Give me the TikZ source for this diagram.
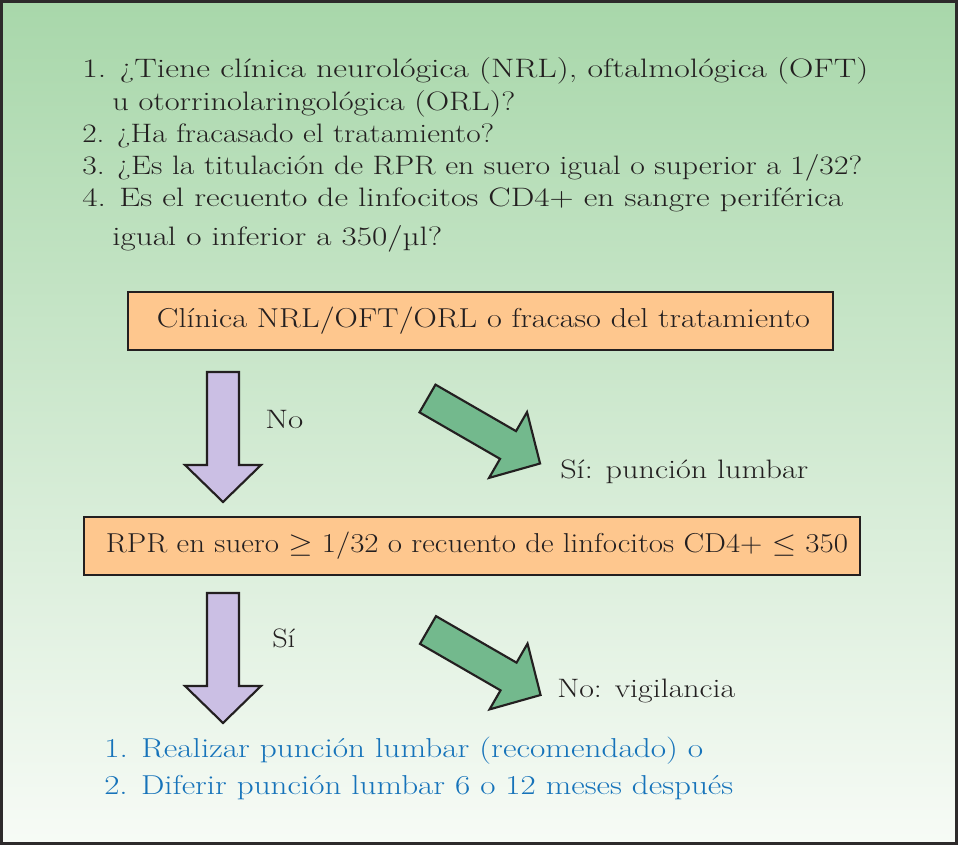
\documentclass[tikz,border=0pt]{standalone}
\usepackage{fontspec}
\usetikzlibrary{calc}
\definecolor{bgtop}{RGB}{168,215,170}
\definecolor{bgbot}{RGB}{247,251,246}
\definecolor{boxfill}{RGB}{254,199,142}
\definecolor{purp}{RGB}{203,191,228}
\definecolor{greenarr}{RGB}{115,185,141}
\definecolor{bluetxt}{RGB}{22,115,186}
\definecolor{ink}{RGB}{35,31,32}
\definecolor{frame}{RGB}{45,42,43}
\newlength\pxu \setlength\pxu{0.75pt}
\newcommand\fitw[2]{\resizebox{#1\pxu}{\height}{#2}}
\tikzset{
  blockarrow/.pic={\draw[pic actions] (0,-16) -- (93,-16) -- (93,-38) -- (130,0) -- (93,38) -- (93,16) -- (0,16) -- cycle;},
  purpleA/.style={fill=purp,draw=ink,line width=1.6pt,line join=miter},
  greenA/.style={fill=greenarr,draw=ink,line width=1.6pt,line join=miter},
  txt/.style={inner sep=0pt,anchor=base west,text=ink,font=\fontsize{20}{24}\selectfont},
  bluet/.style={txt,text=bluetxt,font=\fontsize{20.5}{24}\selectfont},
  orbox/.style={fill=boxfill,draw=ink,line width=1.5pt,inner sep=0pt},
  boxtxt/.style={inner sep=0pt,text=ink,font=\fontsize{20.5}{24}\selectfont}
}
\begin{document}
\begin{tikzpicture}[x=0.75pt,y=-0.75pt]
\useasboundingbox (0,0) rectangle (958,845);
\shade[top color=bgtop,bottom color=bgbot] (0,0) rectangle (958,845);
\draw[frame,line width=2.4pt] (1.6,1.6) rectangle (956.4,843.4);
% question list
\node[txt] (q1a) at (82,78) {\fitw{786}{1. ¿Tiene clínica neurológica (NRL), oftalmológica (OFT)}};
\node[txt] (q1b) at (112,111) {\fitw{403}{u otorrinolaringológica (ORL)?}};
\node[txt] (q2) at (82,143) {\fitw{412}{2. ¿Ha fracasado el tratamiento?}};
\node[txt] (q3) at (82,175) {\fitw{780}{3. ¿Es la titulación de RPR en suero igual o superior a 1/32?}};
\node[txt] (q4a) at (82,207) {\fitw{761}{4. Es el recuento de linfocitos CD4+ en sangre periférica}};
\node[txt] (q4b) at (112,246) {\fitw{330}{igual o inferior a 350/µl?}};
% box 1
\path[orbox] (128,292) rectangle (833,350);
\node[boxtxt] (b1) at (483.5,321) {\fitw{653}{Clínica NRL/OFT/ORL o fracaso del tratamiento}};
% arrows 1
\pic[purpleA,rotate=-90] at (223,372) {blockarrow};
\node[txt] (no1) at (265,428) {\fitw{38}{No}};
\pic[greenA,rotate=-30] at (427.5,398.5) {blockarrow};
\node[txt] (si1) at (560,478) {\fitw{248}{Sí: punción lumbar}};
% box 2
\path[orbox] (84,517) rectangle (860,575);
\node[boxtxt] (b2) at (477,546) {\fitw{742}{RPR en suero $\geq$ 1/32 o recuento de linfocitos CD4+ $\leq$ 350}};
% arrows 2
\pic[purpleA,rotate=-90] at (223,593) {blockarrow};
\node[txt] (si2) at (272,647) {\fitw{23}{Sí}};
\pic[greenA,rotate=-30] at (428,630) {blockarrow};
\node[txt] (no2) at (557,697) {\fitw{178}{No: vigilancia}};
% result
\node[bluet] (r1) at (104,757) {\fitw{599}{1. Realizar punción lumbar (recomendado) o}};
\node[bluet] (r2) at (104,794) {\fitw{629}{2. Diferir punción lumbar 6 o 12 meses después}};
\end{tikzpicture}
\end{document}
